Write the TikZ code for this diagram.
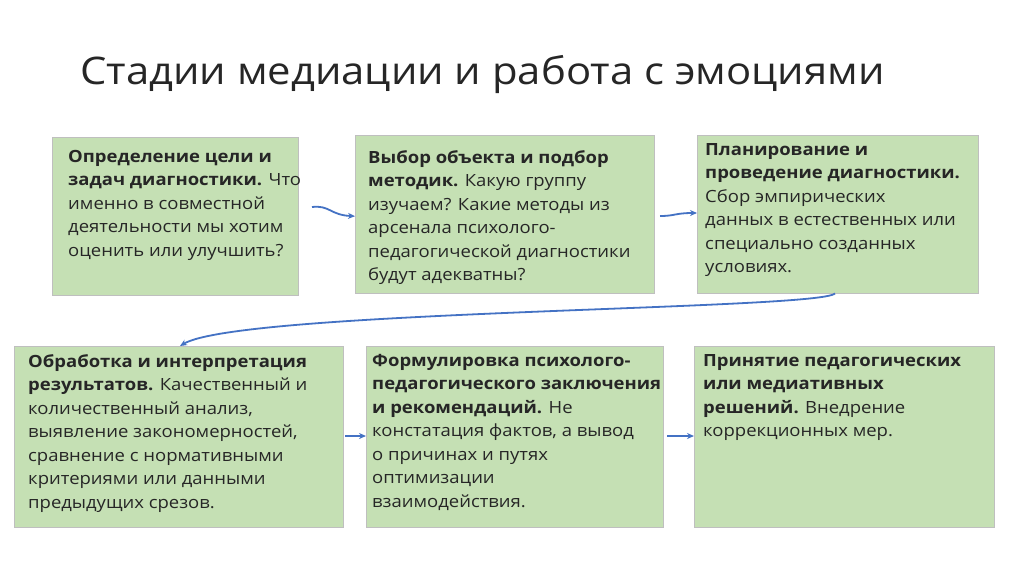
\documentclass[tikz,border=0pt]{standalone}
\usepackage{fontspec}
\setmainfont[FakeStretch=1.1]{Open Sans}
\usetikzlibrary{arrows.meta}
\definecolor{boxg}{HTML}{C5E0B4}
\definecolor{txt}{HTML}{262626}
\definecolor{arr}{HTML}{4472C4}
\begin{document}
\begin{tikzpicture}[x=1pt,y=-1pt,
  box/.style={draw=black!25,fill=boxg,anchor=north west,inner sep=0pt,align=left},
  tx/.style={anchor=north west,align=left,text=txt,font=\fontsize{16.8}{23.5}\selectfont,inner sep=0pt},
  conn/.style={draw=arr,line width=1.8pt,-{Stealth[length=7pt,width=6pt]}}]
\useasboundingbox (0,0) rectangle (1024,574);
\fill[white] (0,0) rectangle (1024,574);
\node[anchor=west,text=txt,font=\fontsize{38}{40}\selectfont,inner sep=0pt] (title) at (80,75) {Стадии медиации и работа с эмоциями};
\node[box,minimum width=246,minimum height=158] (b1) at (52,137) {};
\node[box,minimum width=299,minimum height=158] (b2) at (355,135) {};
\node[box,minimum width=281,minimum height=158] (b3) at (697,135) {};
\node[box,minimum width=329,minimum height=181] (b4) at (14,346) {};
\node[box,minimum width=297,minimum height=181] (b5) at (366,346) {};
\node[box,minimum width=300,minimum height=181] (b6) at (694,346) {};
\node[tx] (t1) at (68,150) {\textbf{Определение цели и}\\\textbf{задач диагностики.} Что\\именно в совместной\\деятельности мы хотим\\оценить или улучшить?};
\node[tx] (t2) at (368,150) {\textbf{Выбор объекта и подбор}\\\textbf{методик.} Какую группу\\изучаем? Какие методы из\\арсенала психолого-\\педагогической диагностики\\будут адекватны?};
\node[tx] (t3) at (705,143) {\textbf{Планирование и}\\\textbf{проведение диагностики.}\\Сбор эмпирических\\данных в естественных или\\специально созданных\\условиях.};
\node[tx] (t4) at (28,354) {\textbf{Обработка и интерпретация}\\\textbf{результатов.} Качественный и\\количественный анализ,\\выявление закономерностей,\\сравнение с нормативными\\критериями или данными\\предыдущих срезов.};
\node[tx] (t5) at (372,354) {\textbf{Формулировка психолого-}\\\textbf{педагогического заключения}\\\textbf{и рекомендаций.} Не\\констатация фактов, а вывод\\о причинах и путях\\оптимизации\\взаимодействия.};
\node[tx] (t6) at (703,354) {\textbf{Принятие педагогических}\\\textbf{или медиативных}\\\textbf{решений.} Внедрение\\коррекционных мер.};
\draw[conn] (312,207) .. controls (330,205) and (330,215) .. (b1.east -| b2.west);
\draw[conn] (660,216) .. controls (675,216) and (675,213) .. (b3.west |- 0,213);
\draw[conn] (b3.south -| 835,0) .. controls (820,310) and (240,310) .. (b4.north -| 180,0);
\draw[conn] (345,436) -- (b5.west |- 0,436);
\draw[conn] (667,436) -- (b6.west |- 0,436);
\end{tikzpicture}
\end{document}
